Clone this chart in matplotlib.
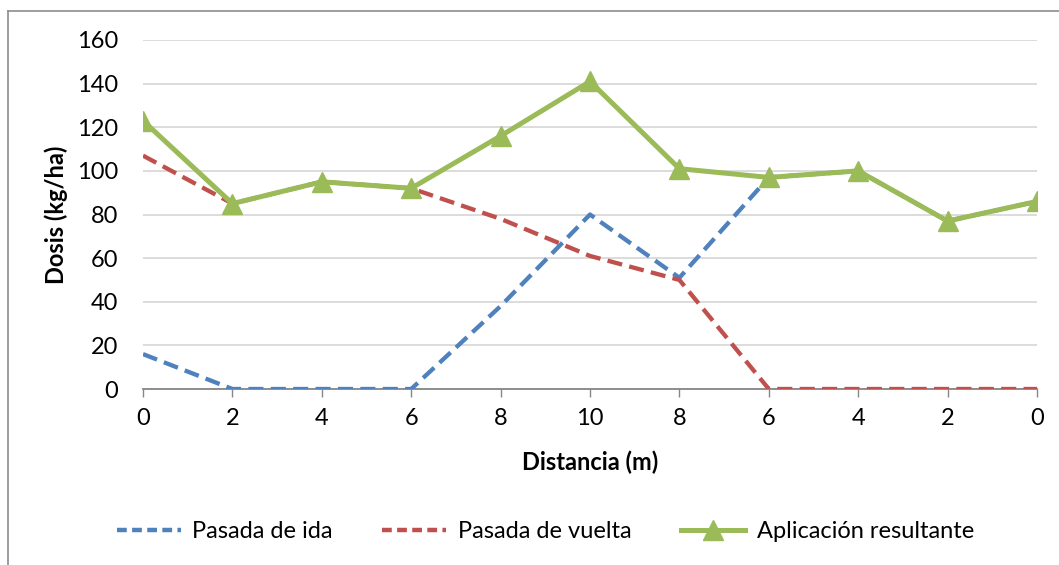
import matplotlib
matplotlib.use("Agg")
import matplotlib.pyplot as plt
from matplotlib.lines import Line2D

plt.rcParams['font.family'] = ['Lato', 'DejaVu Sans']

# Distance labels along the pass (there and back)
distance_labels = ['0', '2', '4', '6', '8', '10', '8', '6', '4', '2', '0']
# Dose per pass (kg/ha)
pasada_ida = [16, 0, 0, 0, 38, 80, 51, 97, 100, 77, 86]
pasada_vuelta = [107, 85, 95, 92, 78, 61, 50, 0, 0, 0, 0]
aplicacion_resultante = [123, 85, 95, 92, 116, 141, 101, 97, 100, 77, 86]

BLUE = '#4F81BD'
RED = '#C0504D'
GREEN = '#9BBB59'

fig = plt.figure(figsize=(10.59, 5.65), dpi=100)
ax = fig.add_axes([143 / 1059, 1 - 389 / 565, (1037 - 143) / 1059, (389 - 40) / 565])

x = list(range(len(distance_labels)))
ax.plot(x, pasada_ida, color=BLUE, lw=3.1, dashes=(3.5, 1.7), zorder=3,
        label='Pasada de ida')
ax.plot(x, pasada_vuelta, color=RED, lw=3.1, dashes=(3.5, 1.7), zorder=4,
        label='Pasada de vuelta')
ax.plot(x, aplicacion_resultante, color=GREEN, lw=3.6, marker='^',
        markersize=14, zorder=5, label='Aplicación resultante')

ax.set_xlim(0, len(distance_labels) - 1)
ax.set_ylim(0, 160)
ax.set_yticks(range(0, 161, 20))
ax.set_xticks(x)
ax.set_xticklabels(distance_labels)
ax.yaxis.grid(True, color='#D9D9D9', lw=1.3)
ax.set_axisbelow(True)
for s in ('top', 'right', 'left'):
    ax.spines[s].set_visible(False)
ax.spines['bottom'].set_color('#868686')
ax.spines['bottom'].set_linewidth(1.3)
ax.tick_params(axis='y', length=0, pad=18, labelsize=17)
ax.tick_params(axis='x', length=6, color='#868686', width=1, pad=8, labelsize=17)

ax.set_xlabel('Distancia (m)', fontsize=17, fontweight='bold', labelpad=15)
ax.set_ylabel('Dosis (kg/ha)', fontsize=17, fontweight='bold', labelpad=6)

handles = [
    Line2D([], [], color=BLUE, lw=3.2, dashes=(2.2, 1.2)),
    Line2D([], [], color=RED, lw=3.2, dashes=(2.2, 1.2)),
    Line2D([], [], color=GREEN, lw=3.6, marker='^', markersize=14),
]
fig.legend(handles, ['Pasada de ida', 'Pasada de vuelta', 'Aplicación resultante'],
           loc='center', bbox_to_anchor=(0.515, 1 - 532 / 565), ncol=3,
           frameon=False, fontsize=17, handlelength=2.7, columnspacing=2.1,
           handletextpad=0.5)

# Chart frame (left and top edges)
fig.add_artist(Line2D([8 / 1059, 8 / 1059], [0, 1 - 11 / 565], color='#8C8C8C',
                      lw=1.2, transform=fig.transFigure))
fig.add_artist(Line2D([8 / 1059, 1], [1 - 11 / 565, 1 - 11 / 565], color='#8C8C8C',
                      lw=1.2, transform=fig.transFigure))

fig.savefig('out.png', dpi=100)
